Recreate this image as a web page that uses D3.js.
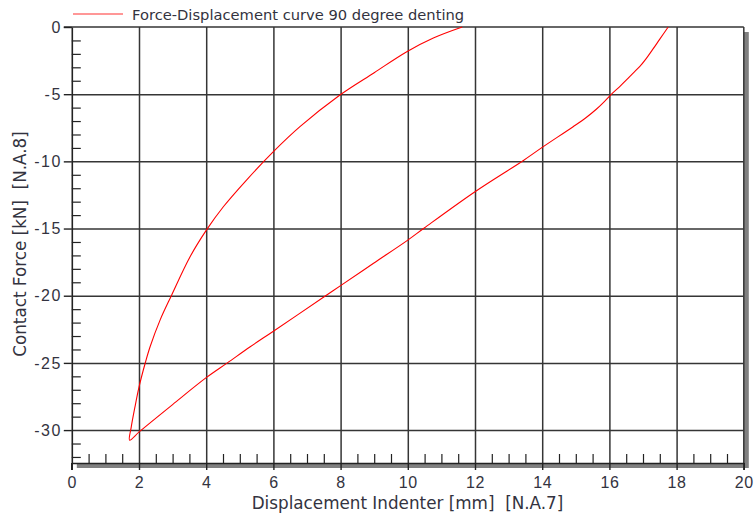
<!DOCTYPE html>
<html>
<head>
<meta charset="utf-8">
<script src="https://cdn.jsdelivr.net/npm/d3@7/dist/d3.min.js"></script>
<style>
  html, body { margin: 0; padding: 0; background: #fff; }
  svg { display: block; font-family: "DejaVu Sans", Verdana, sans-serif; }
  text { white-space: pre; }
</style>
</head>
<body>
<svg id="chart" width="756" height="519"></svg>
<script>
// Force-displacement loop for 90 degree denting
const seriesName = "Force-Displacement curve 90 degree denting";
// Unloading branch (from zero force down to the peak)
const displacementA = [11.62, 10.76, 9.97, 9.0, 7.98, 6.79, 6.0, 5.2, 4.51, 4.01, 3.52, 2.97, 2.63, 2.33, 2.19, 2.0, 1.88, 1.77, 1.72];
const forceA        = [0, -0.82, -1.84, -3.4, -5.06, -7.42, -9.28, -11.39, -13.38, -15.1, -17.1, -19.96, -21.8, -23.8, -24.97, -26.8, -28.27, -29.76, -30.75];
// Return branch (from the peak back up to zero force)
const displacementB = [1.72, 2.02, 3.0, 4.0, 4.63, 5.31, 6.0, 7.5, 8.0, 8.97, 10.0, 10.5, 12.0, 13.43, 14.0, 14.92, 15.3, 15.61, 15.85, 16.07, 16.3, 16.5, 16.7, 16.9, 17.1, 17.3, 17.5, 17.75];
const forceB        = [-30.75, -30.1, -28.1, -26.1, -25.0, -23.8, -22.64, -20.1, -19.25, -17.6, -15.86, -14.94, -12.26, -9.95, -8.96, -7.42, -6.75, -6.12, -5.55, -4.98, -4.45, -3.96, -3.45, -2.95, -2.33, -1.63, -0.9, 0];

const xMajor = [0, 2, 4, 6, 8, 10, 12, 14, 16, 18, 20];
const yMajor = [0, -5, -10, -15, -20, -25, -30];
const xTitle = "Displacement Indenter [mm]  [N.A.7]";
const yTitle = "Contact Force [kN]  [N.A.8]";

const svg = d3.select("#chart");
const plotL = 71.8, plotR = 743.8, plotT = 27, plotB = 463;
const x = d3.scaleLinear().domain([0, 20]).range([plotL, plotR]);
const y = d3.scaleLinear().domain([-32.45, 0]).range([plotB, plotT]);

const xMinor = d3.range(0, 20.001, 0.5).filter(v => Math.abs(v % 2) > 1e-6);
const yMinor = d3.range(-32, 0.001, 1).filter(v => Math.abs(v % 5) > 1e-6);

const textColor = "#333340";
const gridColor = "#353535";

// drop shadow behind the plot frame
svg.append("rect")
  .attr("x", plotL + 5).attr("y", plotT + 5)
  .attr("width", plotR - plotL).attr("height", plotB - plotT)
  .attr("fill", "#808080");
svg.append("rect")
  .attr("x", plotL).attr("y", plotT)
  .attr("width", plotR - plotL).attr("height", plotB - plotT)
  .attr("fill", "#fff");

// grid lines
const gx = svg.append("g").attr("transform", `translate(0,${plotB})`)
  .call(d3.axisBottom(x).tickValues(xMajor.slice(1, -1)).tickSize(-(plotB - plotT)).tickFormat(""));
gx.select(".domain").remove();
gx.selectAll("line").attr("stroke", gridColor).attr("stroke-width", 1.5);

const gy = svg.append("g").attr("transform", `translate(${plotL},0)`)
  .call(d3.axisLeft(y).tickValues(yMajor.slice(1)).tickSize(-(plotR - plotL)).tickFormat(""));
gy.select(".domain").remove();
gy.selectAll("line").attr("stroke", gridColor).attr("stroke-width", 1.5);

// top and right borders
svg.append("line").attr("x1", plotL - 8).attr("x2", plotR).attr("y1", plotT).attr("y2", plotT)
  .attr("stroke", gridColor).attr("stroke-width", 1.5);
svg.append("line").attr("x1", plotR).attr("x2", plotR).attr("y1", plotT).attr("y2", plotB + 7)
  .attr("stroke", gridColor).attr("stroke-width", 1.5);

// minor ticks
const mx = svg.append("g").attr("transform", `translate(0,${plotB})`)
  .call(d3.axisBottom(x).tickValues(xMinor).tickSize(-9).tickFormat(""));
mx.select(".domain").remove();
mx.selectAll("line").attr("stroke", "#222").attr("stroke-width", 1.2);

const my = svg.append("g").attr("transform", `translate(${plotL},0)`)
  .call(d3.axisLeft(y).tickValues(yMinor).tickSize(-9).tickFormat(""));
my.select(".domain").remove();
my.selectAll("line").attr("stroke", "#222").attr("stroke-width", 1.2);

// main axes
const ax = svg.append("g").attr("transform", `translate(0,${plotB})`)
  .call(d3.axisBottom(x).tickValues(xMajor).tickSize(7).tickSizeOuter(0).tickPadding(7).tickFormat(d3.format("d")));
ax.select(".domain").attr("stroke", "#222").attr("stroke-width", 1.6);
ax.selectAll("line").attr("stroke", "#222").attr("stroke-width", 1.4);
ax.selectAll("text").attr("fill", textColor).style("font-size", "16px").style("letter-spacing", "0.6px");

const ay = svg.append("g").attr("transform", `translate(${plotL},0)`)
  .call(d3.axisLeft(y).tickValues(yMajor).tickSize(8).tickSizeOuter(0).tickPadding(2)
    .tickFormat(d => d === 0 ? "0" : "-" + Math.abs(d)));
ay.select(".domain").attr("stroke", "#222").attr("stroke-width", 1.6);
ay.selectAll("line").attr("stroke", "#222").attr("stroke-width", 1.4);
ay.selectAll("text").attr("fill", textColor).style("font-size", "16px").style("letter-spacing", "1.5px");
svg.append("line").attr("x1", plotL).attr("x2", plotL).attr("y1", plotB).attr("y2", plotB + 7)
  .attr("stroke", "#222").attr("stroke-width", 1.6);

// curve
const line = d3.line().x(d => x(d[0])).y(d => y(d[1]));
const pts = displacementA.map((d, i) => [d, forceA[i]])
  .concat(displacementB.slice(1).map((d, i) => [d, forceB[i + 1]]));
svg.append("path").datum(pts)
  .attr("d", line.curve(d3.curveCatmullRom.alpha(0.5)))
  .attr("fill", "none").attr("stroke", "#ff0000").attr("stroke-width", 1.1);

// legend
svg.append("line").attr("x1", 73).attr("x2", 123).attr("y1", 14).attr("y2", 14)
  .attr("stroke", "#ff3030").attr("stroke-width", 1.2);
svg.append("text").attr("x", 132).attr("y", 19.5).attr("fill", textColor)
  .style("font-size", "14.7px").text(seriesName);

// axis titles
svg.append("text").attr("x", 407.5).attr("y", 509)
  .attr("text-anchor", "middle").attr("fill", textColor).style("font-size", "16.8px").text(xTitle);
svg.append("text").attr("transform", "translate(26,244) rotate(-90)")
  .attr("text-anchor", "middle").attr("fill", textColor).style("font-size", "16.8px").text(yTitle);
</script>
</body>
</html>
